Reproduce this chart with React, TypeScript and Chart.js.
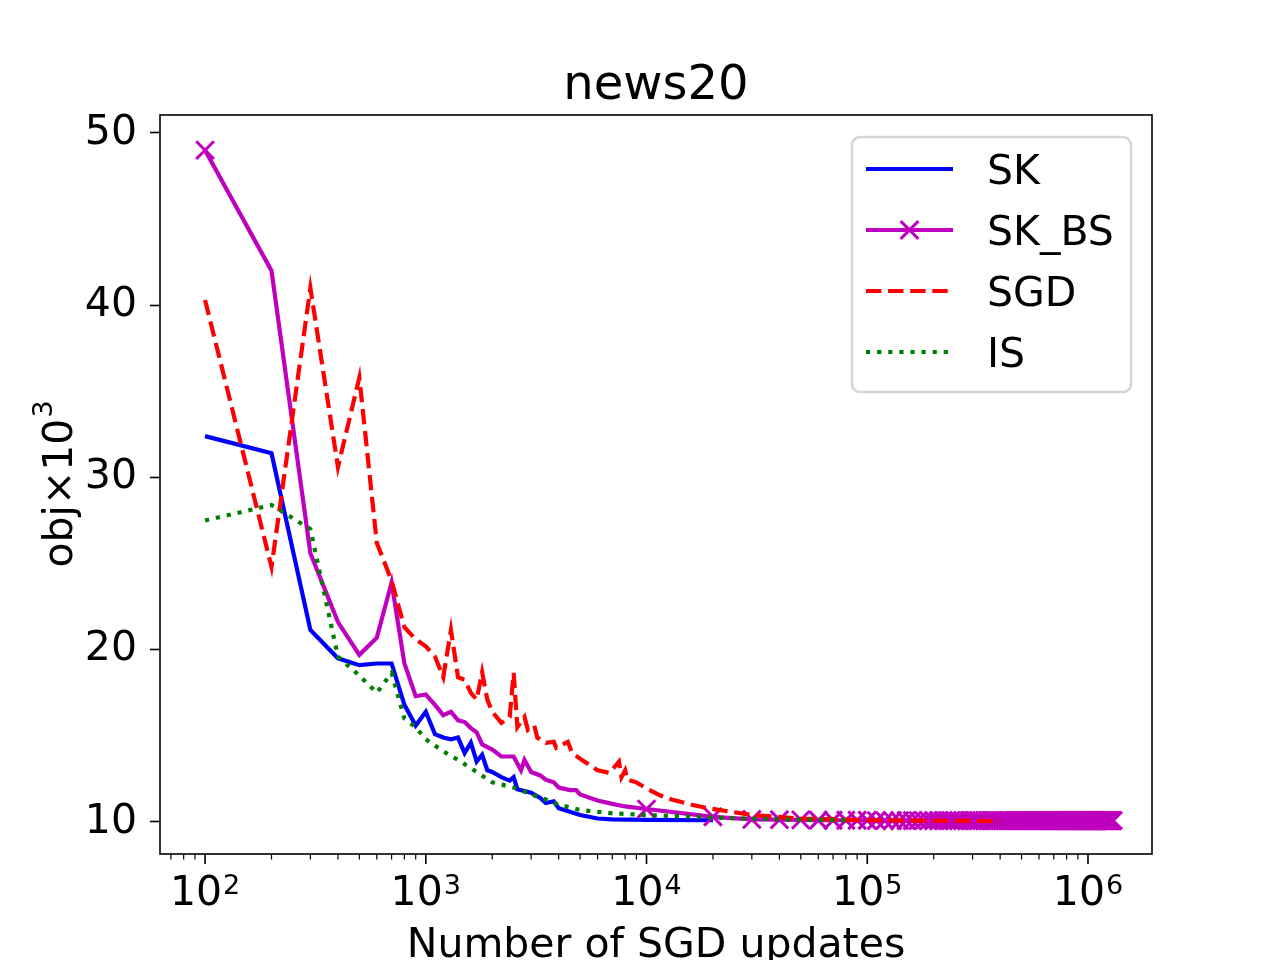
import { useEffect, useRef } from "react";
import { Chart, registerables } from "chart.js";

Chart.register(...registerables);

const FONT = "'DejaVu Sans', sans-serif";

const skX = [100, 200, 300, 400, 500, 600, 700, 800, 900, 1000, 1100, 1200, 1300, 1400, 1500, 1600, 1700, 1800, 1900, 2000, 2200, 2400, 2500, 2600, 3000, 3300, 3500, 3800, 4000, 5000, 6000, 7000, 10000, 20000];
const skY = [32.4, 31.4, 21.15, 19.5, 19.1, 19.2, 19.2, 16.8, 15.6, 16.4, 15.1, 14.9, 14.8, 14.9, 14.0, 14.6, 13.5, 13.9, 13.0, 12.9, 12.6, 12.4, 12.6, 11.9, 11.7, 11.4, 11.1, 11.2, 10.8, 10.4, 10.2, 10.15, 10.12, 10.1];

// SK_BS: dense start, then one sample per 10^4 updates (those carry the "x" markers)
const skbsEarlyX = [100, 200, 300, 400, 500, 600, 700, 800, 900, 1000, 1100, 1200, 1300, 1400, 1500, 1600, 1700, 1800, 2000, 2200, 2500, 2700, 2800, 3000, 3300, 3500, 3800, 4000, 4500, 4800, 5000, 6000, 7000, 8000];
const skbsEarlyY = [49.0, 42.0, 25.6, 21.6, 19.7, 20.7, 23.9, 19.2, 17.3, 17.4, 16.8, 16.2, 16.4, 15.9, 15.8, 15.45, 15.2, 14.5, 14.2, 13.8, 13.8, 13.0, 13.6, 12.9, 12.7, 12.45, 12.3, 12.0, 11.85, 11.85, 11.6, 11.25, 11.05, 10.9];
const skbsTailK = [
  1, 2, 3, 4, 5, 6, 7, 8, 9, 10,
  11, 12, 13, 14, 15, 16, 17, 18, 19, 20,
  21, 22, 23, 24, 25, 26, 27, 28, 29, 30,
  31, 32, 33, 34, 35, 36, 37, 38, 39, 40,
  41, 42, 43, 44, 45, 46, 47, 48, 49, 50,
  51, 52, 53, 54, 55, 56, 57, 58, 59, 60,
  61, 62, 63, 64, 65, 66, 67, 68, 69, 70,
  71, 72, 73, 74, 75, 76, 77, 78, 79, 80,
  81, 82, 83, 84, 85, 86, 87, 88, 89, 90,
  91, 92, 93, 94, 95, 96, 97, 98, 99, 100,
  101, 102, 103, 104, 105, 106, 107, 108, 109, 110,
  111, 112, 113, 114, 115, 116, 117, 118, 119, 120,
  121, 122, 123, 124, 125, 126, 127, 128, 129, 130,
];
const skbsTailY = [
  10.75, 10.3, 10.15, 10.13, 10.12, 10.1, 10.1, 10.1, 10.1, 10.1,
  10.08, 10.08, 10.08, 10.08, 10.08, 10.08, 10.08, 10.08, 10.08, 10.08,
  10.08, 10.08, 10.08, 10.08, 10.08, 10.08, 10.08, 10.08, 10.08, 10.08,
  10.08, 10.08, 10.08, 10.08, 10.08, 10.08, 10.08, 10.08, 10.08, 10.08,
  10.08, 10.08, 10.08, 10.08, 10.08, 10.08, 10.08, 10.08, 10.08, 10.08,
  10.08, 10.08, 10.08, 10.08, 10.08, 10.08, 10.08, 10.08, 10.08, 10.08,
  10.08, 10.08, 10.08, 10.08, 10.08, 10.08, 10.08, 10.08, 10.08, 10.08,
  10.08, 10.08, 10.08, 10.08, 10.08, 10.08, 10.08, 10.08, 10.08, 10.08,
  10.08, 10.08, 10.08, 10.08, 10.08, 10.08, 10.08, 10.08, 10.08, 10.08,
  10.08, 10.08, 10.08, 10.08, 10.08, 10.08, 10.08, 10.08, 10.08, 10.08,
  10.08, 10.08, 10.08, 10.08, 10.08, 10.08, 10.08, 10.08, 10.08, 10.08,
  10.08, 10.08, 10.08, 10.08, 10.08, 10.08, 10.08, 10.08, 10.08, 10.08,
  10.08, 10.08, 10.08, 10.08, 10.08, 10.08, 10.08, 10.08, 10.08, 10.08,
];

const sgdX = [100, 200, 300, 400, 500, 600, 700, 800, 900, 1000, 1100, 1200, 1300, 1400, 1500, 1600, 1700, 1800, 1900, 2000, 2200, 2400, 2500, 2600, 2800, 2900, 3100, 3200, 3500, 3800, 3900, 4400, 4600, 5100, 6000, 6800, 7500, 7700, 8000, 8200, 9000, 10000, 11500, 13000, 16000, 19000, 30000, 50000, 100000, 200000, 400000];
const sgdY = [40.3, 24.8, 41.0, 30.6, 35.8, 26.2, 24.0, 21.3, 20.6, 20.2, 19.6, 18.4, 21.15, 18.4, 18.25, 17.5, 17.1, 18.7, 17.1, 16.4, 15.75, 16.1, 18.65, 15.5, 16.1, 15.35, 15.6, 14.9, 14.6, 14.65, 14.3, 14.65, 14.0, 13.6, 13.0, 12.85, 13.5, 12.6, 13.0, 12.45, 12.3, 11.95, 11.55, 11.3, 11.0, 10.8, 10.4, 10.2, 10.1, 10.07, 10.05];

const isX = [100, 200, 300, 400, 500, 600, 700, 800, 900, 1000, 1200, 1400, 1700, 2000, 2500, 3000, 3500, 4000, 5000, 7000, 10000, 20000, 40000, 80000];
const isY = [27.5, 28.4, 27.0, 19.6, 18.5, 17.5, 18.65, 16.0, 15.5, 14.8, 14.1, 13.6, 12.9, 12.3, 12.0, 11.6, 11.3, 11.0, 10.7, 10.5, 10.4, 10.25, 10.15, 10.1];

const xMajorExps = [2, 3, 4, 5, 6];
const yTicks = [10, 20, 30, 40, 50];

const SK_COLOR = "#0000ff";
const SKBS_COLOR = "#bf00bf";
const SGD_COLOR = "#ff0000";
const IS_COLOR = "#008000";
const SGD_DASH = [15.4, 6.7];
const IS_DASH = [4.2, 6.9];

const skbsX = [...skbsEarlyX, ...skbsTailK.map((k) => k * 10000)];
const skbsY = [...skbsEarlyY, ...skbsTailY];
const skbsMarked = new Set([100, ...skbsTailK.map((k) => k * 10000)]);

const pts = (xs: number[], ys: number[]) => xs.map((x, i) => ({ x, y: ys[i] }));

function drawX(ctx: CanvasRenderingContext2D, cx: number, cy: number, h: number) {
  ctx.beginPath();
  ctx.moveTo(cx - h, cy - h);
  ctx.lineTo(cx + h, cy + h);
  ctx.moveTo(cx + h, cy - h);
  ctx.lineTo(cx - h, cy + h);
  ctx.stroke();
}

const overlay = {
  id: "overlay",
  afterDraw(chart: Chart) {
    const { ctx, chartArea: a } = chart;
    const xs = chart.scales.x;
    ctx.save();

    // frame
    ctx.strokeStyle = "#000";
    ctx.lineWidth = 1.6;
    ctx.setLineDash([]);
    ctx.strokeRect(a.left, a.top, a.right - a.left, a.bottom - a.top);

    // log x ticks, major and minor
    for (let e = 1; e <= 6; e++) {
      for (let m = 1; m <= 9; m++) {
        const v = m * Math.pow(10, e);
        if (v < xs.min || v > xs.max) continue;
        const px = xs.getPixelForValue(v);
        ctx.lineWidth = m === 1 ? 1.6 : 1.2;
        ctx.beginPath();
        ctx.moveTo(px, a.bottom);
        ctx.lineTo(px, a.bottom + (m === 1 ? 10 : 5.5));
        ctx.stroke();
      }
    }

    // x tick labels 10^n
    ctx.fillStyle = "#000";
    ctx.textBaseline = "alphabetic";
    ctx.textAlign = "left";
    xMajorExps.forEach((e) => {
      const px = xs.getPixelForValue(Math.pow(10, e));
      ctx.font = `41px ${FONT}`;
      const w1 = ctx.measureText("10").width;
      ctx.font = `27px ${FONT}`;
      const w2 = ctx.measureText(String(e)).width;
      const x0 = px - (w1 + w2 + 1) / 2;
      ctx.font = `41px ${FONT}`;
      ctx.fillText("10", x0, 905);
      ctx.font = `27px ${FONT}`;
      ctx.fillText(String(e), x0 + w1 + 1, 894);
    });

    // title
    ctx.textAlign = "center";
    ctx.font = `48px ${FONT}`;
    ctx.fillText("news20", (a.left + a.right) / 2, 99);

    // x axis label
    ctx.font = `41px ${FONT}`;
    ctx.fillText("Number of SGD updates", (a.left + a.right) / 2, 957);

    // y axis label
    ctx.save();
    ctx.translate(72, 484);
    ctx.rotate(-Math.PI / 2);
    ctx.textAlign = "left";
    ctx.font = `41px ${FONT}`;
    const wMain = ctx.measureText("obj×10").width;
    ctx.font = `27px ${FONT}`;
    const wSup = ctx.measureText("3").width;
    const start = -(wMain + wSup + 1) / 2;
    ctx.font = `41px ${FONT}`;
    ctx.fillText("obj×10", start, 0);
    ctx.font = `27px ${FONT}`;
    ctx.fillText("3", start + wMain + 1, -20);
    ctx.restore();

    // legend
    ctx.beginPath();
    ctx.roundRect(852, 137, 279, 255, 8);
    ctx.fillStyle = "rgba(255,255,255,0.8)";
    ctx.fill();
    ctx.strokeStyle = "#d6d6d6";
    ctx.lineWidth = 2.6;
    ctx.stroke();

    const entries = [
      { label: "SK", color: SK_COLOR, dash: [] as number[], marker: false },
      { label: "SK_BS", color: SKBS_COLOR, dash: [] as number[], marker: true },
      { label: "SGD", color: SGD_COLOR, dash: SGD_DASH, marker: false },
      { label: "IS", color: IS_COLOR, dash: IS_DASH, marker: false },
    ];
    entries.forEach((en, i) => {
      const y = 169 + i * 61;
      ctx.strokeStyle = en.color;
      ctx.lineWidth = 4.2;
      ctx.setLineDash(en.dash);
      ctx.beginPath();
      ctx.moveTo(866, y);
      ctx.lineTo(953, y);
      ctx.stroke();
      ctx.setLineDash([]);
      if (en.marker) {
        ctx.lineWidth = 3;
        drawX(ctx, 909.5, y, 8.85);
      }
      ctx.fillStyle = "#000";
      ctx.textAlign = "left";
      ctx.font = `41px ${FONT}`;
      ctx.fillText(en.label, 987, y + 15);
    });

    ctx.restore();
  },
};

export default function App() {
  const canvasRef = useRef<HTMLCanvasElement>(null);

  useEffect(() => {
    const chart = new Chart(canvasRef.current!, {
      type: "line",
      data: {
        datasets: [
          {
            label: "SK",
            data: pts(skX, skY),
            borderColor: SK_COLOR,
            borderWidth: 4.2,
            pointRadius: 0,
            order: 4,
          },
          {
            label: "SK_BS",
            data: pts(skbsX, skbsY),
            borderColor: SKBS_COLOR,
            borderWidth: 4.2,
            pointStyle: "crossRot",
            pointRadius: skbsX.map((x) => (skbsMarked.has(x) ? 12.5 : 0)),
            pointBorderColor: SKBS_COLOR,
            pointBackgroundColor: SKBS_COLOR,
            pointBorderWidth: 3,
            order: 3,
          },
          {
            label: "SGD",
            data: pts(sgdX, sgdY),
            borderColor: SGD_COLOR,
            borderWidth: 4.2,
            borderDash: SGD_DASH,
            pointRadius: 0,
            order: 2,
          },
          {
            label: "IS",
            data: pts(isX, isY),
            borderColor: IS_COLOR,
            borderWidth: 4.2,
            borderDash: IS_DASH,
            pointRadius: 0,
            order: 1,
          },
        ],
      },
      options: {
        animation: false,
        responsive: false,
        devicePixelRatio: 1,
        events: [],
        layout: { padding: { top: 115, right: 128, left: 0, bottom: 0 } },
        elements: { line: { tension: 0, fill: false } },
        plugins: {
          legend: { display: false },
          tooltip: { enabled: false },
          title: { display: false },
        },
        scales: {
          x: {
            type: "logarithmic",
            min: 62.5,
            max: 1.95e6,
            grid: { display: false },
            border: { display: false },
            ticks: { display: false },
            afterFit(scale: any) {
              scale.height = 106;
            },
          },
          y: {
            type: "linear",
            min: 8.14,
            max: 51.04,
            afterBuildTicks(scale: any) {
              scale.ticks = yTicks.map((v) => ({ value: v }));
            },
            ticks: {
              font: { family: FONT, size: 41 },
              color: "#000",
              padding: 13,
            },
            grid: {
              drawOnChartArea: false,
              tickLength: 10,
              tickColor: "#000",
              tickWidth: 1.6,
            },
            border: { display: false },
            afterFit(scale: any) {
              scale.width = 160;
            },
          },
        },
      },
      plugins: [overlay],
    });

    return () => chart.destroy();
  }, []);

  return (
    <div style={{ position: "absolute", left: 0, top: 0, width: 1280, height: 960, background: "#fff" }}>
      <canvas ref={canvasRef} width={1280} height={960}></canvas>
    </div>
  );
}
